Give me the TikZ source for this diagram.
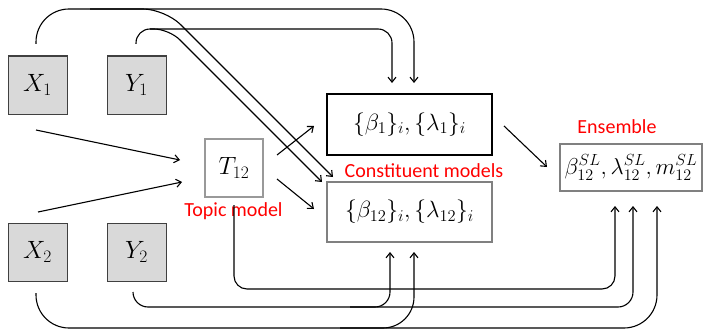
\RequirePackage{fix-cm}
\documentclass[tikz,border=0pt]{standalone}
\usepackage{fontspec}
\newfontfamily\lab{Carlito}
\usetikzlibrary{arrows.meta,calc}
\begin{document}
\begin{tikzpicture}[x=1pt,y=-1pt,
  line width=1.1pt,
  >={Straight Barb[length=5pt,width=8pt]},
  var/.style={draw=black!75,fill=black!15,minimum width=59pt,minimum height=58pt,inner sep=0pt,line width=1pt,font=\fontsize{25}{29}\selectfont},
  tbox/.style={draw=black!40,fill=white,minimum width=58pt,minimum height=58pt,inner sep=0pt,line width=1.2pt,font=\fontsize{25}{29}\selectfont},
  mbox/.style={fill=white,minimum width=165pt,inner sep=0pt,line width=1.2pt,font=\fontsize{23.5}{28}\selectfont},
  ebox/.style={draw=black!50,fill=white,minimum width=142pt,minimum height=47pt,inner sep=0pt,line width=1.2pt,font=\fontsize{23}{27}\selectfont},
  lbl/.style={text=red,inner sep=0pt,font=\lab\fontsize{20}{24}\selectfont},
  conn/.style={->}
]
\useasboundingbox (0,0) rectangle (703,329);

% nodes
\node[var] (X1) at (37.5,85) {$X_1$};
\node[var] (Y1) at (136.5,85) {$Y_1$};
\node[var] (X2) at (37.5,252) {$X_2$};
\node[var] (Y2) at (136.5,252) {$Y_2$};
\node[tbox] (T) at (234,168) {$T_{12}$};
\node[mbox,draw=black,minimum height=61pt] (B1) at (409.5,124.5) {$\{\beta_1\}_i,\{\lambda_1\}_i$};
\node[mbox,draw=black!50,minimum height=60pt] (B2) at (409.5,212) {$\{\beta_{12}\}_i,\{\lambda_{12}\}_i$};
\node[ebox] (E) at (631,167.5) {$\beta^{SL}_{12},\lambda^{SL}_{12},m^{SL}_{12}$};

% labels
\node[lbl] (lE) at (617,126.5) {Ensemble};
\node[lbl] (lC) at (424,170.5) {Constituent models};
\node[lbl] (lT) at (233.5,211) {Topic model};

% coordinates for straight arrows
\coordinate (a1s) at (36,130);  \coordinate (a1e) at (180,160);
\coordinate (a2s) at (38,212);  \coordinate (a2e) at (182,182);
\coordinate (a3s) at (277,155); \coordinate (a3e) at (314,126);
\coordinate (a4s) at (277,179); \coordinate (a4e) at (314,209);
\coordinate (a5s) at (504,126); \coordinate (a5e) at (547,167);
\draw[conn] (a1s) -- (a1e);
\draw[conn] (a2s) -- (a2e);
\draw[conn] (a3s) -- (a3e);
\draw[conn] (a4s) -- (a4e);
\draw[conn] (a5s) -- (a5e);

% top routes
\coordinate (x1s) at (36,44);
\coordinate (x1t) at (414,83);
\coordinate (x1split) at (90,9);
\coordinate (x1b) at (333,177);
\draw[conn,rounded corners=33pt] (x1s) |- (x1t |- x1split) -- (x1t);
\draw[conn,rounded corners=22pt] (x1split) -- (165,9) -- (x1b);

\coordinate (y1s) at (136,44);
\coordinate (y1t) at (392,83);
\coordinate (y1split) at (150,29);
\coordinate (y1b) at (322,182);
\draw[conn,rounded corners=14pt] (y1s) |- (y1t |- y1split) -- (y1t);
\draw[conn,rounded corners=15pt] (y1split) -- (169,29) -- (y1b);

% bottom routes
\coordinate (ts) at (234,205);
\coordinate (te) at (615,206);
\draw[conn,rounded corners=13pt] (ts) |- (615,289) -- (te);

\coordinate (y2s) at (133,292);
\coordinate (y2e) at (633,206);
\coordinate (y2split) at (350,307);
\coordinate (y2b) at (390,252);
\draw[conn,rounded corners=15pt] (y2s) |- (y2e |- y2split) -- (y2e);
\draw[conn,rounded corners=15pt] (y2split) -| (y2b);

\coordinate (x2s) at (36,293);
\coordinate (x2e) at (657,206);
\coordinate (x2split) at (340,328);
\coordinate (x2b) at (414,252);
\draw[conn,rounded corners=33pt] (x2s) |- (x2e |- x2split) -- (x2e);
\draw[conn,rounded corners=31pt] (x2split) -| (x2b);
\end{tikzpicture}
\end{document}
